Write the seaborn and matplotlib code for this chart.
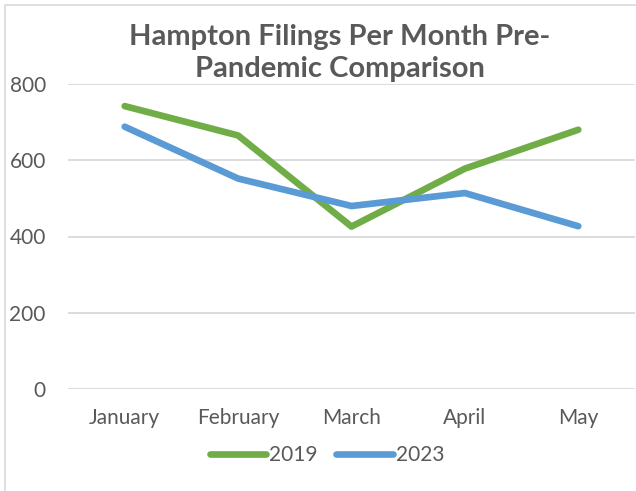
import pandas as pd
import seaborn as sns
import matplotlib.pyplot as plt
from matplotlib.patches import Rectangle

# Values
months = ["January", "February", "March", "April", "May"]
filings_2019 = [742, 665, 426, 578, 680]
filings_2023 = [688, 552, 480, 514, 427]
y_ticks = [0, 200, 400, 600, 800]

df = pd.DataFrame({
    "Month": months * 2,
    "Filings": filings_2019 + filings_2023,
    "Year": ["2019"] * len(months) + ["2023"] * len(months),
})

sns.set_style("white")
plt.rcParams["font.family"] = ["Lato", "DejaVu Sans"]
text_color = "#595959"

fig = plt.figure(figsize=(6.36, 4.91), dpi=100)
ax = fig.add_axes([68 / 636, 1 - 389 / 491, 567 / 636, 305 / 491])

sns.lineplot(
    data=df, x="Month", y="Filings", hue="Year",
    palette={"2019": "#70AD47", "2023": "#5B9BD5"},
    linewidth=4.8, sort=False, ax=ax, legend=True,
)
for line in ax.get_lines():
    line.set_solid_capstyle("round")
    line.set_solid_joinstyle("round")

ax.set_xlim(-0.5, len(months) - 0.5)
ax.set_ylim(0, 800)
ax.set_yticks(y_ticks)
ax.grid(axis="y", color="#d9d9d9", linewidth=1.3)
ax.set_axisbelow(True)
for s in ax.spines.values():
    s.set_visible(False)
ax.set_xlabel("")
ax.set_ylabel("")
ax.tick_params(axis="both", length=0, labelsize=15, colors=text_color)
ax.tick_params(axis="y", pad=16)
ax.tick_params(axis="x", pad=14)

handles, labels = ax.get_legend_handles_labels()
ax.legend_.remove()
fig.legend(
    handles, labels, loc="center", bbox_to_anchor=(327 / 636, 1 - 455 / 491),
    ncol=2, frameon=False, fontsize=15, labelcolor=text_color,
    handlelength=2.7, handletextpad=0.15, columnspacing=0.9,
)

fig.text(340 / 636, 1 - 53 / 491, "Hampton Filings Per Month Pre-\nPandemic Comparison",
         ha="center", va="center", fontsize=21, fontweight="bold",
         color=text_color, linespacing=1.3)

# Chart area border
fig.patches.append(Rectangle((5 / 636, -0.1), 1.2, 1 - 5 / 491 + 0.1,
                             transform=fig.transFigure, fill=False,
                             edgecolor="#d9d9d9", linewidth=1.2))

fig.savefig("out.png", dpi=100)
